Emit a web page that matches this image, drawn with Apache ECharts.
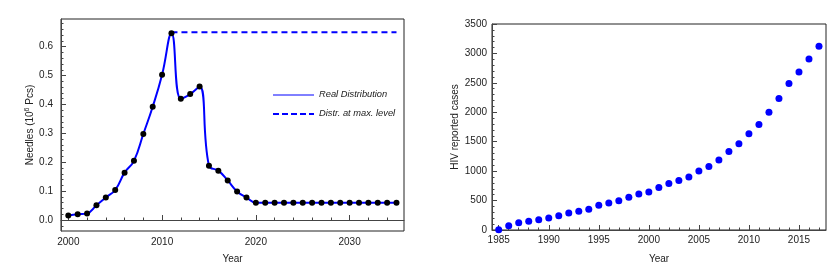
<!DOCTYPE html>
<html>
<head>
<meta charset="utf-8">
<script src="https://cdn.jsdelivr.net/npm/echarts@6/dist/echarts.min.js"></script>
<style>html,body{margin:0;padding:0;background:#fff;}#c{width:840px;height:278px;}</style>
</head>
<body>
<div id="c"></div>
<script>
// ---- Left chart data ----
const needleYears = [2000,2001,2002,2003,2004,2005,2006,2007,2008,2009,2010,2011,2012,2013,2014,2015,2016,2017,2018,2019,2020,2021,2022,2023,2024,2025,2026,2027,2028,2029,2030,2031,2032,2033,2034,2035];
const needleValues = [0.016,0.020,0.023,0.051,0.078,0.104,0.164,0.205,0.298,0.392,0.503,0.647,0.420,0.436,0.462,0.188,0.171,0.137,0.099,0.078,0.060,0.060,0.060,0.060,0.060,0.060,0.060,0.060,0.060,0.060,0.060,0.060,0.060,0.060,0.060,0.060];
const maxLevelYears = [2011, 2035];
const maxLevelValue = 0.65;
const leftXTicks = [2000,2010,2020,2030];
const leftYTicks = [0,0.1,0.2,0.3,0.4,0.5,0.6];
const leftYTickLabels = ['0.0','0.1','0.2','0.3','0.4','0.5','0.6'];
const legendNames = ['Real Distribution','Distr. at max. level'];

// ---- Right chart data ----
const hivYears = [1985,1986,1987,1988,1989,1990,1991,1992,1993,1994,1995,1996,1997,1998,1999,2000,2001,2002,2003,2004,2005,2006,2007,2008,2009,2010,2011,2012,2013,2014,2015,2016,2017];
const hivCases = [5,74,125,147,176,204,244,289,318,352,420,460,499,556,613,647,720,789,840,902,1004,1078,1191,1333,1464,1634,1793,2002,2235,2490,2683,2904,3120];
const rightXTicks = [1985,1990,1995,2000,2005,2010,2015];

const leftXMinor = [];
for (let y = 2000; y <= 2035; y += 2) leftXMinor.push(y);
const leftYMinor = [];
for (let k = -1; k <= 34; k++) leftYMinor.push(+(k * 0.02).toFixed(2));
const rightXMinor = [];
for (let y = 1985; y <= 2017; y++) rightXMinor.push(y);

const FONT = 'Liberation Sans';
const labelStyle = {color: '#222', fontSize: 10, fontFamily: FONT};
const lineCol = '#444';
const plain = v => String(Math.round(v));

const chart = echarts.init(document.getElementById('c'), null, {renderer: 'canvas'});

const option = {
  animation: false,
  backgroundColor: '#fff',
  textStyle: {fontFamily: FONT},
  grid: [
    {left: 61, top: 19, width: 343, height: 212, show: true, borderColor: '#222', borderWidth: 1, backgroundColor: 'transparent'},
    {left: 492, top: 24, width: 334, height: 206, show: true, borderColor: '#222', borderWidth: 1, backgroundColor: 'transparent'}
  ],
  xAxis: [
    {gridIndex: 0, type: 'value', min: 1999.22, max: 2035.8, position: 'bottom',
      name: 'Year', nameLocation: 'middle', nameGap: 23, nameTextStyle: labelStyle,
      axisLine: {show: true, lineStyle: {color: lineCol}},
      axisTick: {show: true, inside: true, length: 5, customValues: leftXTicks, lineStyle: {color: lineCol}},
      axisLabel: {customValues: leftXTicks, margin: 6, formatter: plain, ...labelStyle},
      splitLine: {show: false}},
    {gridIndex: 0, type: 'value', min: 1999.22, max: 2035.8, position: 'bottom',
      axisLine: {show: false},
      axisTick: {show: true, inside: true, length: 2.5, customValues: leftXMinor, lineStyle: {color: lineCol}},
      axisLabel: {show: false, customValues: leftXMinor},
      splitLine: {show: false}},
    {gridIndex: 1, type: 'value', min: 1984.33, max: 2017.7, position: 'bottom',
      name: 'Year', nameLocation: 'middle', nameGap: 24, nameTextStyle: labelStyle,
      axisLine: {show: true, lineStyle: {color: lineCol}},
      axisTick: {show: true, inside: true, length: 5, customValues: rightXTicks, lineStyle: {color: lineCol}},
      axisLabel: {customValues: rightXTicks, margin: 5, formatter: plain, ...labelStyle},
      splitLine: {show: false}},
    {gridIndex: 1, type: 'value', min: 1984.33, max: 2017.7, position: 'bottom',
      axisLine: {show: false},
      axisTick: {show: true, inside: true, length: 2.5, customValues: rightXMinor, lineStyle: {color: lineCol}},
      axisLabel: {show: false, customValues: rightXMinor},
      splitLine: {show: false}}
  ],
  yAxis: [
    {gridIndex: 0, type: 'value', min: -0.038, max: 0.696, position: 'left',
      name: 'Needles (10{sup|6} Pcs)', nameLocation: 'middle', nameGap: 23,
      nameTextStyle: {...labelStyle, rich: {sup: {fontSize: 7, verticalAlign: 'top', padding: [0,0,6,0], color: '#222', fontFamily: FONT}}},
      axisLine: {show: true, lineStyle: {color: lineCol}},
      axisTick: {show: true, inside: true, length: 5, customValues: leftYTicks, lineStyle: {color: lineCol}},
      axisLabel: {customValues: leftYTicks, margin: 8, ...labelStyle,
        formatter: v => { const i = leftYTicks.findIndex(t => Math.abs(t - v) < 1e-9); return i >= 0 ? leftYTickLabels[i] : ''; }},
      splitLine: {show: false}},
    {gridIndex: 0, type: 'value', min: -0.038, max: 0.696, position: 'left',
      axisLine: {show: false},
      axisTick: {show: true, inside: true, length: 2.5, customValues: leftYMinor, lineStyle: {color: lineCol}},
      axisLabel: {show: false, customValues: leftYMinor},
      splitLine: {show: false}},
    {gridIndex: 1, type: 'value', min: 0, max: 3500, interval: 500, position: 'left',
      name: 'HIV reported cases', nameLocation: 'middle', nameGap: 32, nameTextStyle: labelStyle,
      axisLine: {show: true, lineStyle: {color: lineCol}},
      axisTick: {show: true, inside: true, length: 5, lineStyle: {color: lineCol}},
      minorTick: {show: true, splitNumber: 5, length: 2.5, lineStyle: {color: lineCol}},
      axisLabel: {margin: 5, formatter: plain, ...labelStyle},
      splitLine: {show: false}}
  ],
  series: [
    {name: legendNames[0], type: 'line', xAxisIndex: 0, yAxisIndex: 0,
      data: needleYears.map((y, i) => [y, needleValues[i]]),
      smooth: 0.45, showSymbol: true, symbol: 'circle', symbolSize: 6,
      itemStyle: {color: '#000'}, lineStyle: {color: '#0000ff', width: 2}, z: 3},
    {name: legendNames[1], type: 'line', xAxisIndex: 0, yAxisIndex: 0,
      data: maxLevelYears.map(y => [y, maxLevelValue]),
      showSymbol: false, lineStyle: {color: '#0000ff', width: 2, type: [6, 4]}, z: 2},
    {name: 'HIV', type: 'scatter', xAxisIndex: 2, yAxisIndex: 2,
      data: hivYears.map((y, i) => [y, hivCases[i]]),
      symbol: 'circle', symbolSize: 7, itemStyle: {color: '#0000ff', opacity: 1}}
  ],
  graphic: [
    {type: 'line', shape: {x1: 273, y1: 95, x2: 314, y2: 95}, style: {stroke: '#0000ff', lineWidth: 1}},
    {type: 'text', left: 319, top: 89.5, style: {text: legendNames[0], font: 'italic 9.3px "Liberation Sans"', fill: '#222'}},
    {type: 'line', shape: {x1: 273, y1: 114, x2: 314, y2: 114}, style: {stroke: '#0000ff', lineWidth: 2, lineDash: [6, 3]}},
    {type: 'text', left: 319, top: 108.5, style: {text: legendNames[1], font: 'italic 9.3px "Liberation Sans"', fill: '#222'}}
  ]
};
chart.setOption(option);
</script>
</body>
</html>
